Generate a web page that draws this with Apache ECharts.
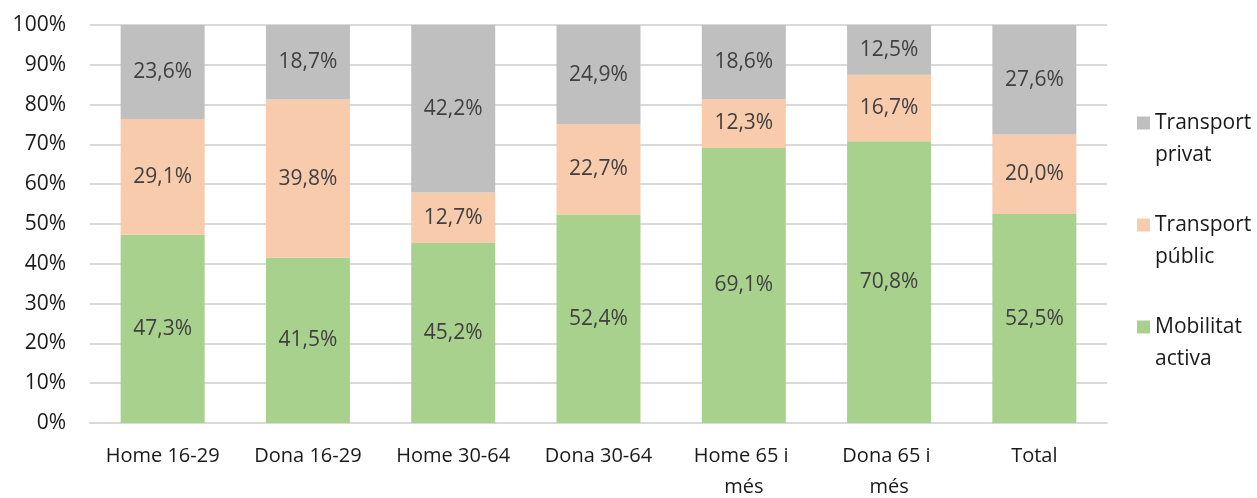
<!DOCTYPE html>
<html>
<head>
<meta charset="utf-8">
<script src="https://cdn.jsdelivr.net/npm/echarts@6/dist/echarts.min.js"></script>
<style>
  html, body { margin: 0; padding: 0; background: #fff; }
  #chart { width: 1257px; height: 498px; }
</style>
</head>
<body>
<div id="chart"></div>
<script>
const categories = ['Home 16-29', 'Dona 16-29', 'Home 30-64', 'Dona 30-64', 'Home 65 i més', 'Dona 65 i més', 'Total'];
const mobilitatActiva = [47.3, 41.5, 45.2, 52.4, 69.1, 70.8, 52.5];
const transportPublic = [29.1, 39.8, 12.7, 22.7, 12.3, 16.7, 20.0];
const transportPrivat = [23.6, 18.7, 42.2, 24.9, 18.6, 12.5, 27.6];
const yTicks = [0, 10, 20, 30, 40, 50, 60, 70, 80, 90, 100];

const font = '"Open Sans", sans-serif';

const chart = echarts.init(document.getElementById('chart'), null, { renderer: 'canvas' });

const fmt = (v) => v.toFixed(1).replace('.', ',') + '%';

const makeSeries = (name, data, color) => ({
    name: name,
    type: 'bar',
    stack: 'total',
    barWidth: 84,
    data: data,
    itemStyle: { color: color },
    label: {
        show: true,
        position: 'inside',
        color: '#404040',
        fontFamily: font,
        fontSize: 21,
        formatter: (p) => fmt(p.value)
    }
});

chart.setOption({
    animation: false,
    grid: { left: 90, right: 150, top: 25, bottom: 75, outerBoundsMode: 'none' },
    xAxis: {
        type: 'category',
        data: categories,
        axisLine: { lineStyle: { color: '#d9d9d9', width: 2 } },
        axisTick: { show: false },
        axisLabel: {
            color: '#1a1a1a',
            fontFamily: font,
            fontSize: 20,
            margin: 18,
            lineHeight: 31,
            width: 128,
            overflow: 'break',
            interval: 0
        }
    },
    yAxis: {
        type: 'value',
        min: yTicks[0],
        max: yTicks[yTicks.length - 1],
        interval: 10,
        axisLine: { show: false },
        axisTick: { show: false },
        splitLine: { lineStyle: { color: '#d9d9d9', width: 2 } },
        axisLabel: {
            color: '#1a1a1a',
            fontFamily: font,
            fontSize: 21,
            margin: 24,
            formatter: '{value}%'
        }
    },
    legend: {
        orient: 'vertical',
        left: 1132,
        top: 70,
        itemWidth: 13,
        itemHeight: 13,
        itemGap: 6,
        icon: 'rect',
        data: ['Transport privat', 'Transport públic', 'Mobilitat activa'],
        formatter: (name) => '\n' + name.replace(' ', '\n'),
        textStyle: {
            color: '#1a1a1a',
            fontFamily: font,
            fontSize: 21,
            lineHeight: 32
        }
    },
    series: [
        makeSeries('Mobilitat activa', mobilitatActiva, '#a9d18e'),
        makeSeries('Transport públic', transportPublic, '#f8cbad'),
        makeSeries('Transport privat', transportPrivat, '#bfbfbf')
    ]
});
</script>
</body>
</html>
